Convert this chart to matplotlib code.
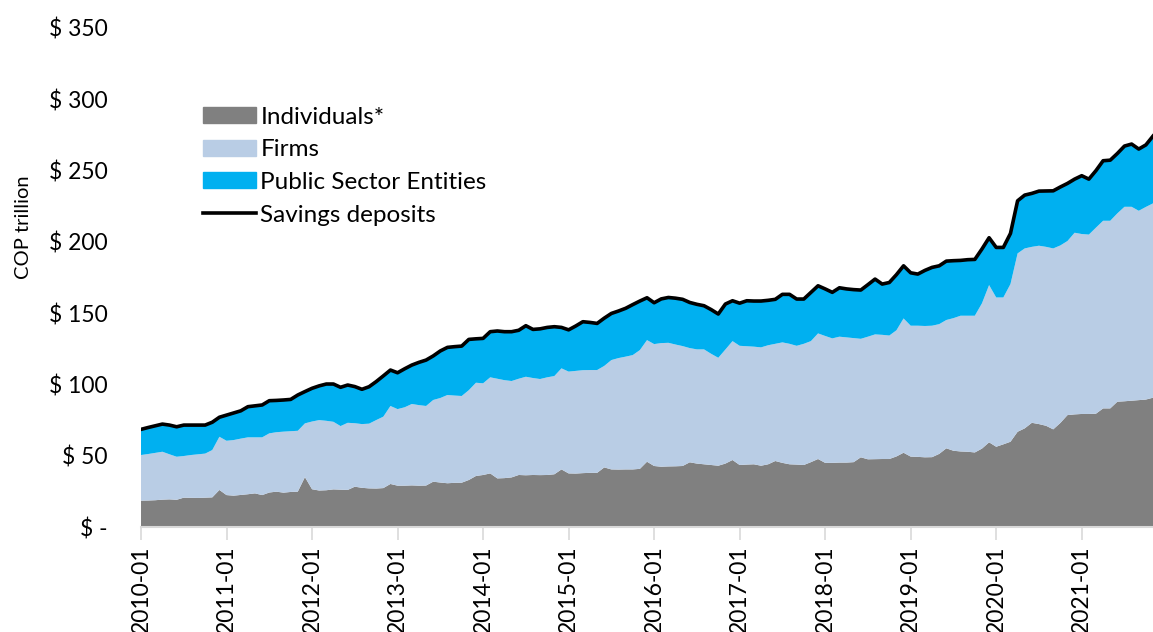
import numpy as np
import pandas as pd
import matplotlib
matplotlib.use("Agg")
import matplotlib.pyplot as plt
from matplotlib.patches import Patch
from matplotlib.lines import Line2D

plt.rcParams['font.family'] = ['Lato', 'DejaVu Sans']

# monthly, 2010-01 .. 2021-11 (COP trillion)
months = pd.period_range('2010-01', '2021-11', freq='M').strftime('%Y-%m').tolist()

individuals = [
    18.5, 18.6, 18.8, 19.2, 19.4, 19.1, 20.6, 20.5, 20.4, 20.6, 20.8, 26.0,
    22.4, 22.0, 22.5, 23.0, 23.6, 22.4, 24.2, 24.8, 24.1, 24.6, 24.8, 35.0,
    26.5, 25.6, 25.8, 26.4, 26.2, 26.0, 28.3, 27.5, 27.1, 27.0, 27.3, 30.2,
    29.0, 29.0, 29.2, 29.0, 29.1, 31.8, 31.2, 30.7, 31.0, 31.1, 33.0, 35.8,
    36.5, 37.6, 34.1, 34.3, 34.8, 36.5, 36.3, 36.5, 36.4, 36.5, 37.0, 40.4,
    37.6, 37.5, 37.8, 38.0, 38.0, 41.8, 40.4, 40.3, 40.4, 40.4, 40.8, 45.8,
    42.8, 42.3, 42.5, 42.6, 42.8, 45.4, 44.5, 44.0, 43.5, 43.0, 44.5, 47.0,
    43.5, 43.8, 44.0, 43.0, 44.0, 46.3, 45.0, 44.0, 43.8, 43.5, 45.5, 47.7,
    45.0, 45.0, 45.2, 45.2, 45.5, 48.9, 47.5, 47.6, 47.7, 47.7, 49.5, 52.1,
    49.4, 49.2, 48.9, 49.0, 51.3, 55.2, 53.5, 53.0, 52.8, 52.3, 55.0, 59.4,
    56.3, 58.0, 59.8, 66.8, 69.2, 73.1, 72.2, 71.0, 68.5, 73.0, 78.5, 79.0,
    79.3, 79.3, 79.5, 83.2, 83.2, 87.9, 88.2, 88.6, 89.0, 89.4, 90.7,
]

firms = [
    32.0, 32.6, 33.2, 33.6, 31.6, 30.2, 29.2, 30.0, 30.6, 30.9, 33.2, 37.3,
    38.1, 39.0, 39.5, 39.9, 39.3, 40.5, 41.5, 41.7, 42.8, 42.6, 42.7, 37.7,
    47.5, 49.4, 48.7, 47.4, 44.6, 47.1, 44.5, 44.7, 45.4, 48.0, 50.1, 54.7,
    53.7, 55.0, 57.1, 56.5, 55.8, 57.3, 59.3, 61.9, 61.2, 60.8, 63.0, 65.4,
    64.3, 67.4, 69.9, 68.7, 67.6, 67.5, 69.1, 68.0, 67.4, 68.5, 68.9, 70.9,
    71.4, 72.0, 72.2, 72.1, 72.1, 71.2, 76.7, 78.2, 79.1, 80.2, 83.3, 85.3,
    85.5, 86.7, 86.7, 85.4, 84.1, 80.1, 80.1, 80.6, 78.0, 75.7, 80.0, 83.4,
    83.6, 83.0, 82.5, 83.0, 83.5, 82.2, 84.5, 84.5, 83.3, 85.0, 84.9, 88.1,
    89.0, 87.3, 88.3, 87.8, 87.0, 83.1, 86.0, 87.5, 87.1, 86.6, 88.5, 94.2,
    91.8, 92.0, 92.1, 92.2, 91.0, 90.0, 93.0, 95.2, 95.4, 95.9, 101.9, 110.3,
    104.7, 103.0, 110.6, 125.1, 126.2, 123.4, 125.1, 125.5, 126.9, 124.5, 122.1, 127.4,
    126.2, 125.8, 130.5, 131.6, 131.6, 132.1, 136.4, 136.0, 132.8, 135.1, 136.3,
]

public = [
    18.0, 18.6, 19.0, 19.4, 20.5, 21.0, 21.7, 21.0, 20.5, 20.0, 19.5, 13.7,
    18.0, 19.0, 19.5, 21.5, 22.1, 22.7, 22.9, 22.3, 22.2, 22.3, 25.1, 22.3,
    23.3, 24.0, 25.8, 26.5, 27.2, 26.5, 25.7, 24.4, 25.9, 27.0, 28.6, 25.2,
    25.5, 27.0, 27.3, 30.0, 32.2, 30.9, 33.0, 33.4, 34.3, 35.0, 35.6, 30.8,
    31.5, 32.0, 33.5, 34.0, 34.6, 34.0, 35.8, 34.1, 35.2, 35.0, 34.6, 28.7,
    29.3, 31.5, 34.0, 33.4, 32.7, 33.5, 32.7, 33.0, 33.9, 35.4, 34.4, 29.7,
    29.0, 31.0, 31.8, 32.5, 32.8, 32.0, 31.6, 30.6, 31.0, 30.7, 31.9, 28.3,
    29.9, 31.9, 32.0, 32.5, 31.5, 31.2, 33.7, 34.7, 32.8, 31.4, 34.1, 33.4,
    33.0, 32.3, 34.3, 34.0, 34.0, 34.2, 36.5, 38.8, 35.6, 37.2, 39.0, 36.9,
    37.1, 36.2, 39.0, 40.9, 40.9, 41.3, 40.3, 38.8, 39.3, 39.5, 38.1, 33.2,
    35.1, 35.1, 35.5, 36.9, 37.4, 37.5, 38.3, 39.2, 40.4, 41.0, 40.4, 37.6,
    40.9, 38.9, 40.0, 42.1, 42.5, 42.0, 42.6, 44.0, 43.3, 43.5, 47.2,
]

savings_total = np.array(individuals) + np.array(firms) + np.array(public)
x = np.arange(len(months))

fig = plt.figure(figsize=(11.53, 6.32), dpi=100)
ax = fig.add_axes([0.1223, 0.1661, 0.8777, 0.7896])

ax.stackplot(x, individuals, firms, public,
             colors=['#808080', '#B9CDE5', '#00B0F0'], linewidth=0)
ax.plot(x, savings_total, color='black', lw=2.6, solid_joinstyle='round')

ax.set_xlim(0, len(months) - 1)
ax.set_ylim(0, 350)

yt = np.arange(0, 351, 50)
ax.set_yticks(yt)
ax.set_yticklabels(['$ -' if v == 0 else f'$ {v}' for v in yt], fontsize=16.5)
ax.tick_params(axis='y', length=0, pad=24)

year_idx = [i for i, m in enumerate(months) if m.endswith('-01')]
ax.set_xticks(year_idx)
ax.set_xticklabels([months[i] for i in year_idx], rotation=90, fontsize=16.5)
ax.tick_params(axis='x', length=9, color='#D9D9D9', width=1.2, pad=4)

for s in ['top', 'right', 'left']:
    ax.spines[s].set_visible(False)
ax.spines['bottom'].set_color('#D9D9D9')
ax.spines['bottom'].set_linewidth(1.5)

ax.set_ylabel('COP trillion', fontsize=14.5)
ax.yaxis.set_label_coords(-0.108, 0.6)

handles = [
    Patch(color='#808080', label='Individuals*'),
    Patch(color='#B9CDE5', label='Firms'),
    Patch(color='#00B0F0', label='Public Sector Entities'),
    Line2D([0], [0], color='black', lw=2.6, label='Savings deposits'),
]
ax.legend(handles=handles, loc='upper left', bbox_to_anchor=(0.052, 0.862),
          frameon=False, fontsize=17.5, handlelength=2.15, handleheight=0.65,
          handletextpad=0.2, labelspacing=0.48, borderaxespad=0)

fig.savefig('out.png', dpi=100)
